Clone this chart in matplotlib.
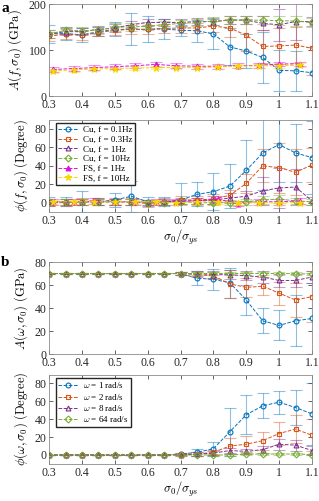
import numpy as np
import matplotlib
matplotlib.use("Agg")
from matplotlib import pyplot as plt

plt.rcParams['font.family'] = ['Liberation Serif', 'DejaVu Serif']
plt.rcParams['mathtext.fontset'] = 'cm'
plt.rcParams['font.size'] = 8.5

# x positions
x_cu = [0.3, 0.35, 0.4, 0.45, 0.5, 0.55, 0.6, 0.65, 0.7, 0.75, 0.8, 0.85, 0.9, 0.95, 1.0, 1.05, 1.1]
x_fs = [0.3125, 0.375, 0.4375, 0.5, 0.5625, 0.625, 0.6875, 0.75, 0.8125, 0.875, 0.9375, 1.0, 1.0625]

# panel a, amplitude
a_amp_cu01 = [135, 136, 133, 140, 145, 145, 145, 146, 143, 142, 135, 107, 98, 84, 56, 55, 51]
a_amp_cu01_err = [20, 15, 15, 10, 15, 35, 28, 22, 12, 24, 33, 40, 36, 56, 44, 44, 55]
a_amp_cu03 = [130, 135, 132, 138, 143, 145, 145, 147, 148, 148, 152, 148, 132, 108, 109, 111, 104]
a_amp_cu03_err = [10, 10, 10, 8, 10, 10, 10, 10, 10, 10, 12, 20, 35, 35, 40, 40, 58]
a_amp_cu1 = [135, 140, 140, 145, 148, 155, 160, 160, 160, 162, 162, 165, 165, 158, 155, 162, 162]
a_amp_cu1_err = [8, 8, 8, 8, 8, 8, 8, 8, 8, 8, 8, 8, 8, 15, 35, 40, 10]
a_amp_cu10 = [135, 143, 142, 143, 150, 150, 152, 155, 158, 160, 163, 165, 165, 165, 164, 163, 160]
a_amp_cu10_err = [8, 8, 8, 8, 8, 8, 8, 8, 8, 8, 8, 8, 8, 8, 10, 10, 10]
a_amp_fs1 = [58, 60, 62, 64, 66, 69, 66, 65, 65, 66, 67, 70, 70]
a_amp_fs1_err = [5, 5, 5, 5, 5, 5, 5, 5, 5, 5, 5, 5, 5]
a_amp_fs10 = [55, 57, 59, 60, 61, 62, 62, 62, 63, 65, 66, 66, 67]
a_amp_fs10_err = [4, 4, 4, 4, 4, 4, 4, 4, 4, 4, 4, 4, 4]

# panel a, phase
a_ph_cu01 = [1, 1, 1, 1, 3, 7, 1, 1, 3, 9, 12, 18, 35, 54, 63, 54, 49]
a_ph_cu01_err = [5, 5, 12, 4, 8, 17, 5, 5, 18, 13, 20, 24, 33, 40, 40, 31, 40]
a_ph_cu03 = [0, 0, 1, 1, 1, 1, -1, 1, 3, 3, 4, 8, 21, 40, 38, 33, 41]
a_ph_cu03_err = [4, 4, 4, 4, 4, 4, 4, 4, 4, 4, 5, 6, 10, 18, 27, 25, 18]
a_ph_cu1 = [1, 1, 1, 1, 1, 1, 0, 1, 2, 2, 3, 5, 7, 13, 16, 17, 2]
a_ph_cu1_err = [3, 3, 3, 3, 3, 3, 3, 3, 3, 3, 4, 5, 6, 15, 22, 20, 4]
a_ph_cu10 = [1, 1, 1, 1, 1, 1, 0, 0, 1, 0, 0, 0, 1, 3, 4, 2, 1]
a_ph_cu10_err = [3, 3, 3, 3, 3, 3, 3, 3, 3, 3, 3, 3, 3, 4, 4, 3, 3]
a_ph_fs1 = [1, 1, 2, 1, 1, 1, 1, 2, 4, -1, 1, 1, 2]
a_ph_fs1_err = [3, 3, 3, 3, 3, 3, 3, 3, 3, 3, 3, 3, 3]
a_ph_fs10 = [1, 1, 1, 1, 1, 1, 0, 1, 1, 0, 0, 0, 0]
a_ph_fs10_err = [2, 2, 2, 2, 2, 2, 2, 2, 2, 2, 2, 2, 2]

# panel b, amplitude
b_amp_w1 = [70, 70, 70, 70, 70, 70, 70, 70, 70, 66, 65, 62, 47, 29, 25, 29, 31]
b_amp_w1_err = [0.5, 0.5, 0.5, 0.5, 0.5, 0.5, 0.5, 0.5, 1, 6, 9, 13, 13, 11, 13, 22, 31]
b_amp_w2 = [70, 70, 70, 70, 70, 70, 70, 70, 70, 69, 68, 61, 58, 59, 53, 47, 50]
b_amp_w2_err = [0.5, 0.5, 0.5, 0.5, 0.5, 0.5, 0.5, 0.5, 1, 2, 3, 12, 8, 8, 10, 15, 22]
b_amp_w8 = [70, 70, 70, 70, 70, 70, 70, 70, 70, 70, 69, 69, 68, 67, 64, 64, 67]
b_amp_w8_err = [0.5, 0.5, 0.5, 0.5, 0.5, 0.5, 0.5, 0.5, 1, 2, 3, 4, 4, 5, 6, 6, 5]
b_amp_w64 = [70, 70, 70, 70, 70, 70, 70, 70, 70, 70, 70, 70, 70, 70, 70, 70, 69.5]
b_amp_w64_err = [0.5, 0.5, 0.5, 0.5, 0.5, 0.5, 0.5, 0.5, 1, 1, 1, 1, 1, 1, 1, 1, 1]

# panel b, phase
b_ph_w1 = [0, 0, 0, 0, 0, 0, 0, 0, 1, 3, 7, 26, 45, 55, 59, 53, 46]
b_ph_w1_err = [0.5, 0.5, 0.5, 0.5, 0.5, 0.5, 0.5, 0.5, 1, 4, 8, 27, 22, 14, 13, 20, 35]
b_ph_w2 = [0, 0, 0, 0, 0, 0, 0, 0, 1, 1, 3, 10, 12, 16, 24, 29, 22]
b_ph_w2_err = [0.5, 0.5, 0.5, 0.5, 0.5, 0.5, 0.5, 0.5, 1, 2, 3, 9, 9, 10, 13, 16, 18]
b_ph_w8 = [0, 0, 0, 0, 0, 0, 0, 0, 0, 1, 2, 5, 4, 6, 12, 11, 5]
b_ph_w8_err = [0.5, 0.5, 0.5, 0.5, 0.5, 0.5, 0.5, 0.5, 1, 2, 2, 3, 3, 4, 6, 6, 5]
b_ph_w64 = [0, 0, 0, 0, 0, 0, 0, 0, 0, 0, 0, 0, 1, 1, 1, 1, 0.5]
b_ph_w64_err = [0.5, 0.5, 0.5, 0.5, 0.5, 0.5, 0.5, 0.5, 1, 1, 1, 1, 1, 1, 1, 1, 1]

labels_a = ['Cu, f = 0.1Hz', 'Cu, f = 0.3Hz', 'Cu, f = 1Hz', 'Cu, f = 10Hz', 'FS, f = 1Hz', 'FS, f = 10Hz']
labels_b = [r'$\omega$ = 1 rad/s', r'$\omega$ = 2 rad/s', r'$\omega$ = 8 rad/s', r'$\omega$ = 64 rad/s']

c_blue = '#0072BD'
c_orange = '#D95319'
c_purple = '#7E2F8E'
c_green = '#77AC30'
c_magenta = '#E010E0'
c_yellow = '#F5D800'

cu_styles = [(c_blue, 'o'), (c_orange, 's'), (c_purple, '^'), (c_green, 'D')]
fs_styles = [(c_magenta, '^'), (c_yellow, '*')]


def draw_series(ax, x, y, err, color, marker, label, filled=False, ms=3.5):
    ax.errorbar(x, y, yerr=err, fmt='none', ecolor=color, alpha=0.45,
                elinewidth=0.8, capsize=4, capthick=0.8, zorder=2)
    ax.plot(x, y, linestyle='--', color=color, linewidth=0.7, marker=marker,
            markersize=ms, markerfacecolor=color if filled else 'none',
            markeredgecolor=color, markeredgewidth=0.8, label=label, zorder=3)


def style_axes(ax, ylim, yticks):
    ax.set_xlim(0.3, 1.1)
    ax.set_ylim(*ylim)
    ax.set_yticks(yticks)
    ax.set_xticks([0.3, 0.4, 0.5, 0.6, 0.7, 0.8, 0.9, 1.0, 1.1])
    ax.set_xticklabels(['0.3', '0.4', '0.5', '0.6', '0.7', '0.8', '0.9', '1', '1.1'])
    ax.tick_params(direction='in', top=True, right=True, length=3, width=0.5,
                   colors='#262626', labelsize=8.5, pad=2)
    for sp in ax.spines.values():
        sp.set_color('#8c8c8c')
        sp.set_linewidth(0.6)


def add_legend(ax):
    ax.legend(loc='upper left', bbox_to_anchor=(0.025, 0.965), fontsize=6.5,
              frameon=True, fancybox=False, edgecolor='#262626', framealpha=1,
              handlelength=2.2, borderpad=0.3, labelspacing=0.15,
              handletextpad=0.5, borderaxespad=0.0)


fig = plt.figure(figsize=(3.19, 5.01), dpi=100)
left, width, height = 0.154, 0.824, 0.184
ax1 = fig.add_axes([left, 0.808, width, height])
ax2 = fig.add_axes([left, 0.577, width, height])
ax3 = fig.add_axes([left, 0.293, width, height])
ax4 = fig.add_axes([left, 0.074, width, height * 0.97])

# panel a, amplitude
amp_cu = [(a_amp_cu01, a_amp_cu01_err), (a_amp_cu03, a_amp_cu03_err),
          (a_amp_cu1, a_amp_cu1_err), (a_amp_cu10, a_amp_cu10_err)]
amp_fs = [(a_amp_fs1, a_amp_fs1_err), (a_amp_fs10, a_amp_fs10_err)]
for (y, e), (c, m), lab in zip(amp_cu, cu_styles, labels_a[:4]):
    draw_series(ax1, x_cu, y, e, c, m, lab)
for (y, e), (c, m), lab in zip(amp_fs, fs_styles, labels_a[4:]):
    draw_series(ax1, x_fs, y, e, c, m, lab, filled=True, ms=4.5 if m == '*' else 3.5)
style_axes(ax1, (0, 200), [0, 100, 200])
ax1.set_ylabel(r'$A(f,\sigma_0)\ \mathrm{(GPa)}$', fontsize=9, labelpad=3)

# panel a, phase
ph_cu = [(a_ph_cu01, a_ph_cu01_err), (a_ph_cu03, a_ph_cu03_err),
         (a_ph_cu1, a_ph_cu1_err), (a_ph_cu10, a_ph_cu10_err)]
ph_fs = [(a_ph_fs1, a_ph_fs1_err), (a_ph_fs10, a_ph_fs10_err)]
for (y, e), (c, m), lab in zip(ph_cu, cu_styles, labels_a[:4]):
    draw_series(ax2, x_cu, y, e, c, m, lab)
for (y, e), (c, m), lab in zip(ph_fs, fs_styles, labels_a[4:]):
    draw_series(ax2, x_fs, y, e, c, m, lab, filled=True, ms=4.5 if m == '*' else 3.5)
style_axes(ax2, (-10, 90), [0, 20, 40, 60, 80])
ax2.set_ylabel(r'$\phi(f,\sigma_0)\ \mathrm{(Degree)}$', fontsize=9, labelpad=3)
ax2.set_xlabel(r'$\sigma_0/\sigma_{ys}$', fontsize=9, labelpad=1)
add_legend(ax2)

# panel b, amplitude
amp_w = [(b_amp_w1, b_amp_w1_err), (b_amp_w2, b_amp_w2_err),
         (b_amp_w8, b_amp_w8_err), (b_amp_w64, b_amp_w64_err)]
for (y, e), (c, m), lab in zip(amp_w, cu_styles, labels_b):
    draw_series(ax3, x_cu, y, e, c, m, lab)
style_axes(ax3, (0, 80), [0, 20, 40, 60, 80])
ax3.set_ylabel(r'$A(\omega,\sigma_0)\ \mathrm{(GPa)}$', fontsize=9, labelpad=3)

# panel b, phase
ph_w = [(b_ph_w1, b_ph_w1_err), (b_ph_w2, b_ph_w2_err),
        (b_ph_w8, b_ph_w8_err), (b_ph_w64, b_ph_w64_err)]
for (y, e), (c, m), lab in zip(ph_w, cu_styles, labels_b):
    draw_series(ax4, x_cu, y, e, c, m, lab)
style_axes(ax4, (-10, 90), [0, 20, 40, 60, 80])
ax4.set_ylabel(r'$\phi(\omega,\sigma_0)\ \mathrm{(Degree)}$', fontsize=9, labelpad=3)
ax4.set_xlabel(r'$\sigma_0/\sigma_{ys}$', fontsize=9, labelpad=1)
add_legend(ax4)

fig.text(0.004, 0.997, 'a', fontsize=11, fontweight='bold', va='top', ha='left')
fig.text(0.004, 0.489, 'b', fontsize=11, fontweight='bold', va='top', ha='left')

fig.savefig('out.png', dpi=100)
